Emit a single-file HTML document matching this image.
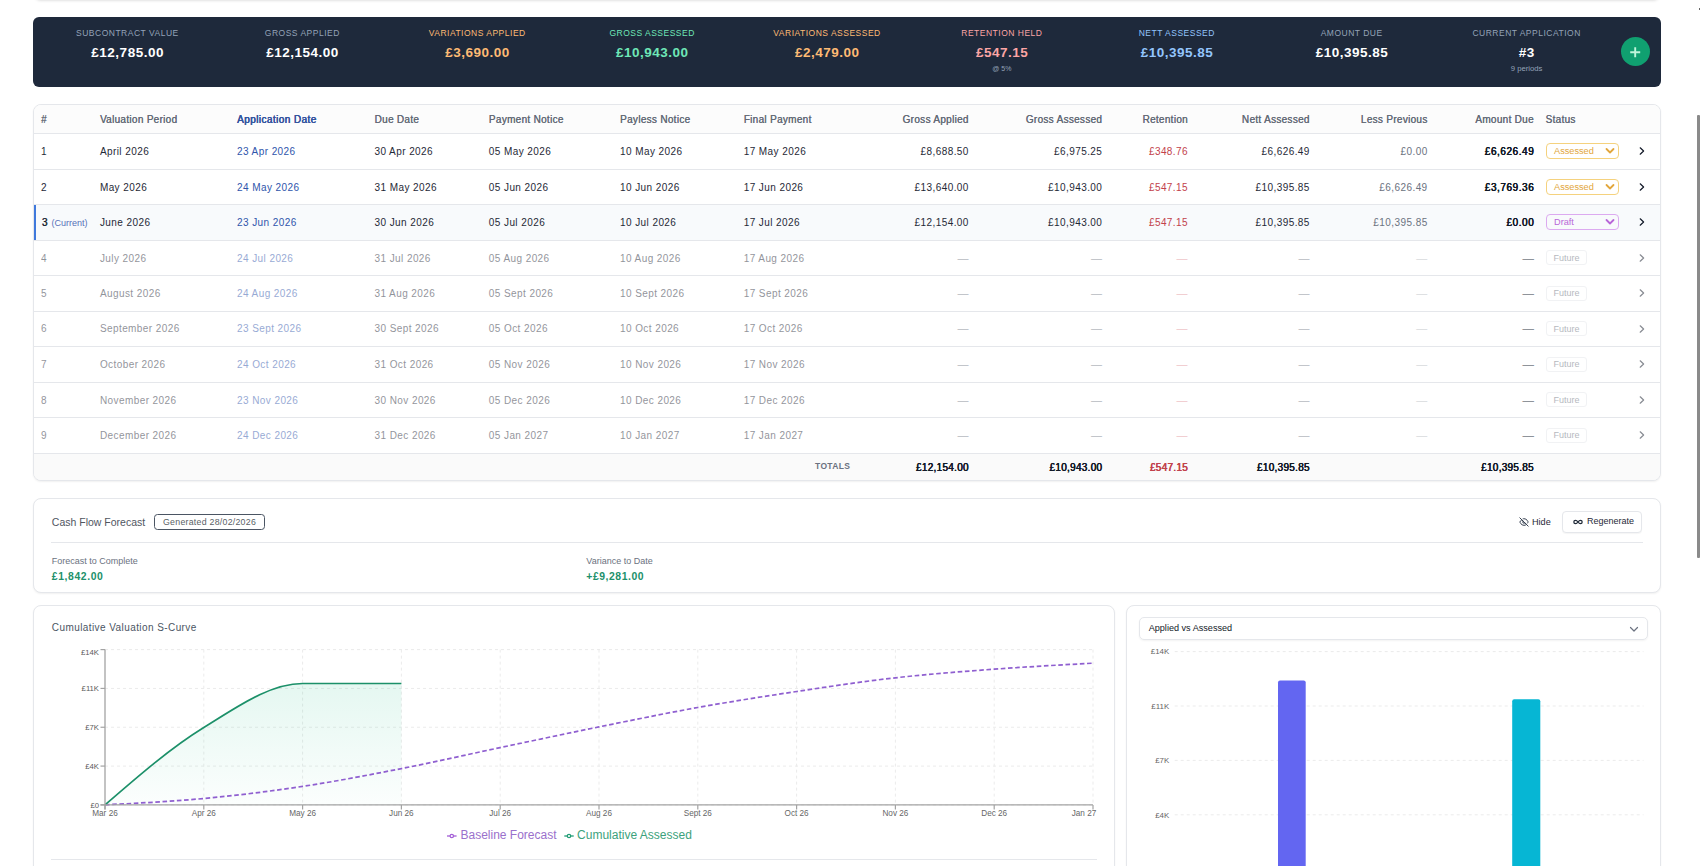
<!DOCTYPE html>
<html><head><meta charset="utf-8"><title>Valuations</title>
<style>
*{box-sizing:border-box;margin:0;padding:0}
html,body{width:1700px;height:866px;overflow:hidden;background:#fff;font-family:"Liberation Sans", sans-serif;color:#111827}
.a{position:absolute;white-space:nowrap}
.card{position:absolute;background:#fff;border:1px solid #e5e7eb;border-radius:8px;box-shadow:0 1px 2px rgba(0,0,0,.06)}
.kl{position:absolute;font-size:8.5px;letter-spacing:.5px;text-align:center;width:175px;line-height:10px;color:#94a3b8}
.kv{position:absolute;font-size:13.5px;letter-spacing:.5px;text-indent:.5px;font-weight:bold;text-align:center;width:175px;line-height:16px;color:#fff}
.ks{position:absolute;font-size:7px;text-align:center;width:175px;line-height:8px;color:#94a3b8}
.th{position:absolute;font-size:10px;letter-spacing:.3px;text-shadow:.25px 0 0;color:#646b77;line-height:12px;top:114.1px}
.td{position:absolute;font-size:10px;letter-spacing:.42px;line-height:13px;color:#1f2937}
.r{text-align:right}
.hl{position:absolute;left:34px;width:1626px;height:1px;background:#e5e7eb}
</style></head><body>

<div class="card" style="left:33px;top:-31px;width:1628px;height:32px;border-color:#ebebeb;box-shadow:0 1px 2px rgba(0,0,0,.05)"></div>
<div class="a" style="left:33px;top:17px;width:1628px;height:70px;background:#1e293b;border-radius:6px"></div>
<div class="kl" style="left:39.9px;top:28px;color:#94a3b8">SUBCONTRACT VALUE</div>
<div class="kv" style="left:39.9px;top:45.3px;color:#ffffff">£12,785.00</div>
<div class="kl" style="left:214.8px;top:28px;color:#94a3b8">GROSS APPLIED</div>
<div class="kv" style="left:214.8px;top:45.3px;color:#ffffff">£12,154.00</div>
<div class="kl" style="left:389.7px;top:28px;color:#fdba74">VARIATIONS APPLIED</div>
<div class="kv" style="left:389.7px;top:45.3px;color:#fdba74">£3,690.00</div>
<div class="kl" style="left:564.6px;top:28px;color:#6ee7b7">GROSS ASSESSED</div>
<div class="kv" style="left:564.6px;top:45.3px;color:#6ee7b7">£10,943.00</div>
<div class="kl" style="left:739.5px;top:28px;color:#fdba74">VARIATIONS ASSESSED</div>
<div class="kv" style="left:739.5px;top:45.3px;color:#fdba74">£2,479.00</div>
<div class="kl" style="left:914.4px;top:28px;color:#fca5a5">RETENTION HELD</div>
<div class="kv" style="left:914.4px;top:45.3px;color:#fca5a5">£547.15</div>
<div class="ks" style="left:914.4px;top:64.5px;font-size:7px">@ 5%</div>
<div class="kl" style="left:1089.3px;top:28px;color:#93c5fd">NETT ASSESSED</div>
<div class="kv" style="left:1089.3px;top:45.3px;color:#93c5fd">£10,395.85</div>
<div class="kl" style="left:1264.2px;top:28px;color:#94a3b8">AMOUNT DUE</div>
<div class="kv" style="left:1264.2px;top:45.3px;color:#ffffff">£10,395.85</div>
<div class="kl" style="left:1439.1px;top:28px;color:#94a3b8">CURRENT APPLICATION</div>
<div class="kv" style="left:1439.1px;top:45.3px;color:#ffffff">#3</div>
<div class="ks" style="left:1439.1px;top:64.5px;font-size:7.7px">9 periods</div>
<div class="a" style="left:1621px;top:37px;width:29px;height:29px;border-radius:50%;background:#10a070"></div>
<svg class="a" style="left:1621px;top:37px" width="29" height="29"><path d="M14.2 10.2v10M9.2 15.2h10" stroke="#bff5da" stroke-width="1.9" stroke-linecap="butt"/></svg>
<div class="card" style="left:33px;top:104px;width:1628px;height:377px;overflow:hidden">
</div>
<div class="a" style="left:34px;top:105px;width:1626px;height:28.3px;background:#fcfcfc;border-radius:7px 7px 0 0"></div>
<div class="hl" style="top:133px;background:#e5e7eb"></div>
<div class="hl" style="top:169.00px"></div>
<div class="hl" style="top:204.00px"></div>
<div class="hl" style="top:239.60px"></div>
<div class="hl" style="top:275.20px"></div>
<div class="hl" style="top:310.60px"></div>
<div class="hl" style="top:346.00px"></div>
<div class="hl" style="top:381.70px"></div>
<div class="hl" style="top:417.10px"></div>
<div class="hl" style="top:452.70px"></div>
<div class="a" style="left:34px;top:205.00px;width:1626px;height:34.60px;background:#f8fafc"></div>
<div class="a" style="left:34px;top:205.00px;width:2.4px;height:35.10px;background:#4079dc"></div>
<div class="a" style="left:34px;top:453.70px;width:1626px;height:26px;background:#fafafa;border-radius:0 0 7px 7px"></div>
<div class="th" style="left:41px">#</div>
<div class="th" style="left:99.9px">Valuation Period</div>
<div class="th" style="left:237px;color:#34549f;letter-spacing:.42px;text-shadow:.35px 0 0 #34549f,.15px 0 0 #34549f">Application Date</div>
<div class="th" style="left:374.5px">Due Date</div>
<div class="th" style="left:488.8px">Payment Notice</div>
<div class="th" style="left:620px">Payless Notice</div>
<div class="th" style="left:743.7px">Final Payment</div>
<div class="th" style="left:1545.5px">Status</div>
<div class="th r" style="left:768.6999999999999px;width:200px">Gross Applied</div>
<div class="th r" style="left:902.2px;width:200px">Gross Assessed</div>
<div class="th r" style="left:987.8999999999999px;width:200px">Retention</div>
<div class="th r" style="left:1109.7px;width:200px">Nett Assessed</div>
<div class="th r" style="left:1227.5px;width:200px">Less Previous</div>
<div class="th r" style="left:1333.8px;width:200px">Amount Due</div>
<div class="a" style="left:0;top:0">
<div class="td" style="left:41px;top:145.05px">1</div>
<div class="td" style="left:99.9px;top:145.05px">April 2026</div>
<div class="td" style="left:237px;top:145.05px;color:#2f55ab">23 Apr 2026</div>
<div class="td" style="left:374.5px;top:145.05px">30 Apr 2026</div>
<div class="td" style="left:488.8px;top:145.05px">05 May 2026</div>
<div class="td" style="left:620px;top:145.05px">10 May 2026</div>
<div class="td" style="left:743.7px;top:145.05px">17 May 2026</div>
<div class="td r" style="left:768.8199999999999px;width:200px;top:145.05px;color:#1f2937;letter-spacing:0.42px">£8,688.50</div>
<div class="td r" style="left:902.32px;width:200px;top:145.05px;color:#1f2937;letter-spacing:0.42px">£6,975.25</div>
<div class="td r" style="left:988.0199999999999px;width:200px;top:145.05px;color:#c2414b;letter-spacing:0.42px">£348.76</div>
<div class="td r" style="left:1109.8200000000002px;width:200px;top:145.05px;color:#1f2937;letter-spacing:0.42px">£6,626.49</div>
<div class="td r" style="left:1227.6200000000001px;width:200px;top:145.05px;color:#6b7280;letter-spacing:0.42px">£0.00</div>
<div class="td r" style="left:1334.05px;width:200px;top:145.05px;color:#111827;text-shadow:.45px 0 0,.2px 0 0;letter-spacing:0.55px">£6,626.49</div>
<div class="a" style="left:1545.5px;top:143.45px;width:73px;height:16px;border:1px solid #f5d27e;border-radius:4px"></div>
<div class="a" style="left:1554px;top:145.45px;font-size:9.2px;line-height:12px;color:#e2a63c">Assessed</div>
<svg class="a" style="left:1605px;top:146.45px" width="10" height="10"><path d="M1.5 3L5 6.5L8.5 3" fill="none" stroke="#e2a63c" stroke-width="1.8" stroke-linecap="round" stroke-linejoin="round"/></svg>
<svg class="a" style="left:1638px;top:146.45px" width="8" height="10"><path d="M2.2 1.8L5.6 5L2.2 8.2" fill="none" stroke="#111827" stroke-width="1.2" stroke-linecap="round" stroke-linejoin="round"/></svg>
</div>
<div class="a" style="left:0;top:0">
<div class="td" style="left:41px;top:180.60px">2</div>
<div class="td" style="left:99.9px;top:180.60px">May 2026</div>
<div class="td" style="left:237px;top:180.60px;color:#2f55ab">24 May 2026</div>
<div class="td" style="left:374.5px;top:180.60px">31 May 2026</div>
<div class="td" style="left:488.8px;top:180.60px">05 Jun 2026</div>
<div class="td" style="left:620px;top:180.60px">10 Jun 2026</div>
<div class="td" style="left:743.7px;top:180.60px">17 Jun 2026</div>
<div class="td r" style="left:768.8199999999999px;width:200px;top:180.60px;color:#1f2937;letter-spacing:0.42px">£13,640.00</div>
<div class="td r" style="left:902.32px;width:200px;top:180.60px;color:#1f2937;letter-spacing:0.42px">£10,943.00</div>
<div class="td r" style="left:988.0199999999999px;width:200px;top:180.60px;color:#c2414b;letter-spacing:0.42px">£547.15</div>
<div class="td r" style="left:1109.8200000000002px;width:200px;top:180.60px;color:#1f2937;letter-spacing:0.42px">£10,395.85</div>
<div class="td r" style="left:1227.6200000000001px;width:200px;top:180.60px;color:#6b7280;letter-spacing:0.42px">£6,626.49</div>
<div class="td r" style="left:1334.05px;width:200px;top:180.60px;color:#111827;text-shadow:.45px 0 0,.2px 0 0;letter-spacing:0.55px">£3,769.36</div>
<div class="a" style="left:1545.5px;top:179.00px;width:73px;height:16px;border:1px solid #f5d27e;border-radius:4px"></div>
<div class="a" style="left:1554px;top:181.00px;font-size:9.2px;line-height:12px;color:#e2a63c">Assessed</div>
<svg class="a" style="left:1605px;top:182.00px" width="10" height="10"><path d="M1.5 3L5 6.5L8.5 3" fill="none" stroke="#e2a63c" stroke-width="1.8" stroke-linecap="round" stroke-linejoin="round"/></svg>
<svg class="a" style="left:1638px;top:182.0px" width="8" height="10"><path d="M2.2 1.8L5.6 5L2.2 8.2" fill="none" stroke="#111827" stroke-width="1.2" stroke-linecap="round" stroke-linejoin="round"/></svg>
</div>
<div class="a" style="left:0;top:0">
<div class="td" style="left:41.8px;top:215.90px;text-shadow:.4px 0 0">3</div>
<div class="td" style="left:51.5px;top:216.90px;font-size:9px;letter-spacing:0;color:#5670b8">(Current)</div>
<div class="td" style="left:99.9px;top:215.90px">June 2026</div>
<div class="td" style="left:237px;top:215.90px;color:#2f55ab">23 Jun 2026</div>
<div class="td" style="left:374.5px;top:215.90px">30 Jun 2026</div>
<div class="td" style="left:488.8px;top:215.90px">05 Jul 2026</div>
<div class="td" style="left:620px;top:215.90px">10 Jul 2026</div>
<div class="td" style="left:743.7px;top:215.90px">17 Jul 2026</div>
<div class="td r" style="left:768.8199999999999px;width:200px;top:215.90px;color:#1f2937;letter-spacing:0.42px">£12,154.00</div>
<div class="td r" style="left:902.32px;width:200px;top:215.90px;color:#1f2937;letter-spacing:0.42px">£10,943.00</div>
<div class="td r" style="left:988.0199999999999px;width:200px;top:215.90px;color:#c2414b;letter-spacing:0.42px">£547.15</div>
<div class="td r" style="left:1109.8200000000002px;width:200px;top:215.90px;color:#1f2937;letter-spacing:0.42px">£10,395.85</div>
<div class="td r" style="left:1227.6200000000001px;width:200px;top:215.90px;color:#6b7280;letter-spacing:0.42px">£10,395.85</div>
<div class="td r" style="left:1334.05px;width:200px;top:215.90px;color:#111827;text-shadow:.45px 0 0,.2px 0 0;letter-spacing:0.55px">£0.00</div>
<div class="a" style="left:1545.5px;top:214.30px;width:73px;height:16px;border:1px solid #dcaaf0;border-radius:4px"></div>
<div class="a" style="left:1554px;top:216.30px;font-size:9.2px;line-height:12px;color:#b866d8">Draft</div>
<svg class="a" style="left:1605px;top:217.30px" width="10" height="10"><path d="M1.5 3L5 6.5L8.5 3" fill="none" stroke="#b866d8" stroke-width="1.8" stroke-linecap="round" stroke-linejoin="round"/></svg>
<svg class="a" style="left:1638px;top:217.3px" width="8" height="10"><path d="M2.2 1.8L5.6 5L2.2 8.2" fill="none" stroke="#111827" stroke-width="1.2" stroke-linecap="round" stroke-linejoin="round"/></svg>
</div>
<div class="a" style="left:0;top:0;opacity:.5">
<div class="td" style="left:41px;top:251.50px">4</div>
<div class="td" style="left:99.9px;top:251.50px">July 2026</div>
<div class="td" style="left:237px;top:251.50px;color:#2f55ab">24 Jul 2026</div>
<div class="td" style="left:374.5px;top:251.50px">31 Jul 2026</div>
<div class="td" style="left:488.8px;top:251.50px">05 Aug 2026</div>
<div class="td" style="left:620px;top:251.50px">10 Aug 2026</div>
<div class="td" style="left:743.7px;top:251.50px">17 Aug 2026</div>
<div class="td r" style="left:768.8199999999999px;width:200px;top:251.50px;color:#6b7280;letter-spacing:.42px;font-size:11px">—</div>
<div class="td r" style="left:902.32px;width:200px;top:251.50px;color:#6b7280;letter-spacing:.42px;font-size:11px">—</div>
<div class="td r" style="left:988.0199999999999px;width:200px;top:251.50px;color:#e08a90;letter-spacing:.42px;font-size:11px">—</div>
<div class="td r" style="left:1109.8200000000002px;width:200px;top:251.50px;color:#6b7280;letter-spacing:.42px;font-size:11px">—</div>
<div class="td r" style="left:1227.6200000000001px;width:200px;top:251.50px;color:#b0b4ba;letter-spacing:.42px;font-size:11px">—</div>
<div class="td r" style="left:1333.92px;width:200px;top:251.50px;color:#1f2937;text-shadow:.45px 0 0,.2px 0 0;letter-spacing:.42px;font-size:11px">—</div>
<div class="a" style="left:1545.5px;top:250.40px;width:41.5px;height:15px;border:1px solid #e5e7eb;border-radius:3px"></div>
<div class="a" style="left:1553.5px;top:251.90px;font-size:9px;line-height:12px;color:#6b7280">Future</div>
<svg class="a" style="left:1638px;top:252.89999999999998px" width="8" height="10"><path d="M2.2 1.8L5.6 5L2.2 8.2" fill="none" stroke="#111827" stroke-width="1.2" stroke-linecap="round" stroke-linejoin="round"/></svg>
</div>
<div class="a" style="left:0;top:0;opacity:.5">
<div class="td" style="left:41px;top:287.00px">5</div>
<div class="td" style="left:99.9px;top:287.00px">August 2026</div>
<div class="td" style="left:237px;top:287.00px;color:#2f55ab">24 Aug 2026</div>
<div class="td" style="left:374.5px;top:287.00px">31 Aug 2026</div>
<div class="td" style="left:488.8px;top:287.00px">05 Sept 2026</div>
<div class="td" style="left:620px;top:287.00px">10 Sept 2026</div>
<div class="td" style="left:743.7px;top:287.00px">17 Sept 2026</div>
<div class="td r" style="left:768.8199999999999px;width:200px;top:287.00px;color:#6b7280;letter-spacing:.42px;font-size:11px">—</div>
<div class="td r" style="left:902.32px;width:200px;top:287.00px;color:#6b7280;letter-spacing:.42px;font-size:11px">—</div>
<div class="td r" style="left:988.0199999999999px;width:200px;top:287.00px;color:#e08a90;letter-spacing:.42px;font-size:11px">—</div>
<div class="td r" style="left:1109.8200000000002px;width:200px;top:287.00px;color:#6b7280;letter-spacing:.42px;font-size:11px">—</div>
<div class="td r" style="left:1227.6200000000001px;width:200px;top:287.00px;color:#b0b4ba;letter-spacing:.42px;font-size:11px">—</div>
<div class="td r" style="left:1333.92px;width:200px;top:287.00px;color:#1f2937;text-shadow:.45px 0 0,.2px 0 0;letter-spacing:.42px;font-size:11px">—</div>
<div class="a" style="left:1545.5px;top:285.90px;width:41.5px;height:15px;border:1px solid #e5e7eb;border-radius:3px"></div>
<div class="a" style="left:1553.5px;top:287.40px;font-size:9px;line-height:12px;color:#6b7280">Future</div>
<svg class="a" style="left:1638px;top:288.4px" width="8" height="10"><path d="M2.2 1.8L5.6 5L2.2 8.2" fill="none" stroke="#111827" stroke-width="1.2" stroke-linecap="round" stroke-linejoin="round"/></svg>
</div>
<div class="a" style="left:0;top:0;opacity:.5">
<div class="td" style="left:41px;top:322.40px">6</div>
<div class="td" style="left:99.9px;top:322.40px">September 2026</div>
<div class="td" style="left:237px;top:322.40px;color:#2f55ab">23 Sept 2026</div>
<div class="td" style="left:374.5px;top:322.40px">30 Sept 2026</div>
<div class="td" style="left:488.8px;top:322.40px">05 Oct 2026</div>
<div class="td" style="left:620px;top:322.40px">10 Oct 2026</div>
<div class="td" style="left:743.7px;top:322.40px">17 Oct 2026</div>
<div class="td r" style="left:768.8199999999999px;width:200px;top:322.40px;color:#6b7280;letter-spacing:.42px;font-size:11px">—</div>
<div class="td r" style="left:902.32px;width:200px;top:322.40px;color:#6b7280;letter-spacing:.42px;font-size:11px">—</div>
<div class="td r" style="left:988.0199999999999px;width:200px;top:322.40px;color:#e08a90;letter-spacing:.42px;font-size:11px">—</div>
<div class="td r" style="left:1109.8200000000002px;width:200px;top:322.40px;color:#6b7280;letter-spacing:.42px;font-size:11px">—</div>
<div class="td r" style="left:1227.6200000000001px;width:200px;top:322.40px;color:#b0b4ba;letter-spacing:.42px;font-size:11px">—</div>
<div class="td r" style="left:1333.92px;width:200px;top:322.40px;color:#1f2937;text-shadow:.45px 0 0,.2px 0 0;letter-spacing:.42px;font-size:11px">—</div>
<div class="a" style="left:1545.5px;top:321.30px;width:41.5px;height:15px;border:1px solid #e5e7eb;border-radius:3px"></div>
<div class="a" style="left:1553.5px;top:322.80px;font-size:9px;line-height:12px;color:#6b7280">Future</div>
<svg class="a" style="left:1638px;top:323.8px" width="8" height="10"><path d="M2.2 1.8L5.6 5L2.2 8.2" fill="none" stroke="#111827" stroke-width="1.2" stroke-linecap="round" stroke-linejoin="round"/></svg>
</div>
<div class="a" style="left:0;top:0;opacity:.5">
<div class="td" style="left:41px;top:357.95px">7</div>
<div class="td" style="left:99.9px;top:357.95px">October 2026</div>
<div class="td" style="left:237px;top:357.95px;color:#2f55ab">24 Oct 2026</div>
<div class="td" style="left:374.5px;top:357.95px">31 Oct 2026</div>
<div class="td" style="left:488.8px;top:357.95px">05 Nov 2026</div>
<div class="td" style="left:620px;top:357.95px">10 Nov 2026</div>
<div class="td" style="left:743.7px;top:357.95px">17 Nov 2026</div>
<div class="td r" style="left:768.8199999999999px;width:200px;top:357.95px;color:#6b7280;letter-spacing:.42px;font-size:11px">—</div>
<div class="td r" style="left:902.32px;width:200px;top:357.95px;color:#6b7280;letter-spacing:.42px;font-size:11px">—</div>
<div class="td r" style="left:988.0199999999999px;width:200px;top:357.95px;color:#e08a90;letter-spacing:.42px;font-size:11px">—</div>
<div class="td r" style="left:1109.8200000000002px;width:200px;top:357.95px;color:#6b7280;letter-spacing:.42px;font-size:11px">—</div>
<div class="td r" style="left:1227.6200000000001px;width:200px;top:357.95px;color:#b0b4ba;letter-spacing:.42px;font-size:11px">—</div>
<div class="td r" style="left:1333.92px;width:200px;top:357.95px;color:#1f2937;text-shadow:.45px 0 0,.2px 0 0;letter-spacing:.42px;font-size:11px">—</div>
<div class="a" style="left:1545.5px;top:356.85px;width:41.5px;height:15px;border:1px solid #e5e7eb;border-radius:3px"></div>
<div class="a" style="left:1553.5px;top:358.35px;font-size:9px;line-height:12px;color:#6b7280">Future</div>
<svg class="a" style="left:1638px;top:359.35px" width="8" height="10"><path d="M2.2 1.8L5.6 5L2.2 8.2" fill="none" stroke="#111827" stroke-width="1.2" stroke-linecap="round" stroke-linejoin="round"/></svg>
</div>
<div class="a" style="left:0;top:0;opacity:.5">
<div class="td" style="left:41px;top:393.50px">8</div>
<div class="td" style="left:99.9px;top:393.50px">November 2026</div>
<div class="td" style="left:237px;top:393.50px;color:#2f55ab">23 Nov 2026</div>
<div class="td" style="left:374.5px;top:393.50px">30 Nov 2026</div>
<div class="td" style="left:488.8px;top:393.50px">05 Dec 2026</div>
<div class="td" style="left:620px;top:393.50px">10 Dec 2026</div>
<div class="td" style="left:743.7px;top:393.50px">17 Dec 2026</div>
<div class="td r" style="left:768.8199999999999px;width:200px;top:393.50px;color:#6b7280;letter-spacing:.42px;font-size:11px">—</div>
<div class="td r" style="left:902.32px;width:200px;top:393.50px;color:#6b7280;letter-spacing:.42px;font-size:11px">—</div>
<div class="td r" style="left:988.0199999999999px;width:200px;top:393.50px;color:#e08a90;letter-spacing:.42px;font-size:11px">—</div>
<div class="td r" style="left:1109.8200000000002px;width:200px;top:393.50px;color:#6b7280;letter-spacing:.42px;font-size:11px">—</div>
<div class="td r" style="left:1227.6200000000001px;width:200px;top:393.50px;color:#b0b4ba;letter-spacing:.42px;font-size:11px">—</div>
<div class="td r" style="left:1333.92px;width:200px;top:393.50px;color:#1f2937;text-shadow:.45px 0 0,.2px 0 0;letter-spacing:.42px;font-size:11px">—</div>
<div class="a" style="left:1545.5px;top:392.40px;width:41.5px;height:15px;border:1px solid #e5e7eb;border-radius:3px"></div>
<div class="a" style="left:1553.5px;top:393.90px;font-size:9px;line-height:12px;color:#6b7280">Future</div>
<svg class="a" style="left:1638px;top:394.9px" width="8" height="10"><path d="M2.2 1.8L5.6 5L2.2 8.2" fill="none" stroke="#111827" stroke-width="1.2" stroke-linecap="round" stroke-linejoin="round"/></svg>
</div>
<div class="a" style="left:0;top:0;opacity:.5">
<div class="td" style="left:41px;top:429.00px">9</div>
<div class="td" style="left:99.9px;top:429.00px">December 2026</div>
<div class="td" style="left:237px;top:429.00px;color:#2f55ab">24 Dec 2026</div>
<div class="td" style="left:374.5px;top:429.00px">31 Dec 2026</div>
<div class="td" style="left:488.8px;top:429.00px">05 Jan 2027</div>
<div class="td" style="left:620px;top:429.00px">10 Jan 2027</div>
<div class="td" style="left:743.7px;top:429.00px">17 Jan 2027</div>
<div class="td r" style="left:768.8199999999999px;width:200px;top:429.00px;color:#6b7280;letter-spacing:.42px;font-size:11px">—</div>
<div class="td r" style="left:902.32px;width:200px;top:429.00px;color:#6b7280;letter-spacing:.42px;font-size:11px">—</div>
<div class="td r" style="left:988.0199999999999px;width:200px;top:429.00px;color:#e08a90;letter-spacing:.42px;font-size:11px">—</div>
<div class="td r" style="left:1109.8200000000002px;width:200px;top:429.00px;color:#6b7280;letter-spacing:.42px;font-size:11px">—</div>
<div class="td r" style="left:1227.6200000000001px;width:200px;top:429.00px;color:#b0b4ba;letter-spacing:.42px;font-size:11px">—</div>
<div class="td r" style="left:1333.92px;width:200px;top:429.00px;color:#1f2937;text-shadow:.45px 0 0,.2px 0 0;letter-spacing:.42px;font-size:11px">—</div>
<div class="a" style="left:1545.5px;top:427.90px;width:41.5px;height:15px;border:1px solid #e5e7eb;border-radius:3px"></div>
<div class="a" style="left:1553.5px;top:429.40px;font-size:9px;line-height:12px;color:#6b7280">Future</div>
<svg class="a" style="left:1638px;top:430.4px" width="8" height="10"><path d="M2.2 1.8L5.6 5L2.2 8.2" fill="none" stroke="#111827" stroke-width="1.2" stroke-linecap="round" stroke-linejoin="round"/></svg>
</div>
<div class="a" style="left:815px;top:460.70px;font-size:8.5px;font-weight:bold;letter-spacing:.35px;color:#6b7280;line-height:10px">TOTALS</div>
<div class="td r" style="left:768.68px;width:200px;top:461.20px;font-size:10px;letter-spacing:.28px;text-shadow:.45px 0 0,.2px 0 0;color:#111827">£12,154.00</div>
<div class="td r" style="left:902.1800000000001px;width:200px;top:461.20px;font-size:10px;letter-spacing:.28px;text-shadow:.45px 0 0,.2px 0 0;color:#111827">£10,943.00</div>
<div class="td r" style="left:987.8799999999999px;width:200px;top:461.20px;font-size:10px;letter-spacing:.28px;text-shadow:.45px 0 0,.2px 0 0;color:#c2414b">£547.15</div>
<div class="td r" style="left:1109.68px;width:200px;top:461.20px;font-size:10px;letter-spacing:.28px;text-shadow:.45px 0 0,.2px 0 0;color:#111827">£10,395.85</div>
<div class="td r" style="left:1333.78px;width:200px;top:461.20px;font-size:10px;letter-spacing:.28px;text-shadow:.45px 0 0,.2px 0 0;color:#111827">£10,395.85</div>
<div class="card" style="left:33px;top:498.2px;width:1628px;height:94.5px"></div>
<div class="a" style="left:51.8px;top:516.2px;font-size:10.5px;line-height:12px;color:#50565f">Cash Flow Forecast</div>
<div class="a" style="left:154.3px;top:514.4px;width:110.3px;height:15.2px;border:1px solid #4b5563;border-radius:3.5px"></div>
<div class="a" style="left:163px;top:516.8px;font-size:8.8px;letter-spacing:.25px;line-height:11px;color:#5a5f66">Generated 28/02/2026</div>
<div class="a" style="left:50.6px;top:542px;width:1592.4px;height:1px;background:#e5e7eb"></div>
<div class="a" style="left:51.8px;top:556px;font-size:9px;line-height:11px;color:#6b7280">Forecast to Complete</div>
<div class="a" style="left:51.8px;top:570.4px;font-size:10.4px;letter-spacing:.6px;line-height:13px;font-weight:bold;color:#21906a">£1,842.00</div>
<div class="a" style="left:586.3px;top:556px;font-size:9px;line-height:11px;color:#6b7280">Variance to Date</div>
<div class="a" style="left:586.3px;top:570.4px;font-size:10.4px;letter-spacing:.55px;line-height:13px;font-weight:bold;color:#21906a">+£9,281.00</div>
<svg class="a" style="left:1518.5px;top:517px" width="10" height="10" viewBox="0 0 24 24" fill="none" stroke="#374151" stroke-width="2.4" stroke-linecap="round" stroke-linejoin="round"><path d="M9.9 4.24A9.12 9.12 0 0 1 12 4c7 0 10 8 10 8a13.16 13.16 0 0 1-1.67 2.68"/><path d="M6.61 6.61A13.526 13.526 0 0 0 2 12s3 8 10 8a9.74 9.74 0 0 0 5.39-1.61"/><path d="M14.12 14.12a3 3 0 1 1-4.24-4.24"/><line x1="2" y1="2" x2="22" y2="22"/></svg>
<div class="a" style="left:1532px;top:517px;font-size:9.1px;line-height:11px;color:#1f2937">Hide</div>
<div class="a" style="left:1562px;top:511px;width:80px;height:22px;border:1px solid #e5e7eb;border-radius:4px;background:#fff;box-shadow:0 1px 1px rgba(0,0,0,.04)"></div>
<svg class="a" style="left:1572.5px;top:517px" width="10" height="10" viewBox="0 0 24 24" fill="none" stroke="#1f2937" stroke-width="3" stroke-linecap="round"><path d="M12 12c-2-2.67-4-4-6-4a4 4 0 1 0 0 8c2 0 4-1.33 6-4Zm0 0c2 2.67 4 4 6 4a4 4 0 0 0 0-8c-2 0-4 1.33-6 4Z"/></svg>
<div class="a" style="left:1587px;top:515.5px;font-size:9px;line-height:11px;color:#1f2937">Regenerate</div>
<div class="card" style="left:33px;top:605px;width:1081.5px;height:320px"></div>
<div class="card" style="left:1126px;top:605px;width:535px;height:320px"></div>
<div class="a" style="left:1139.4px;top:617.3px;width:509px;height:22.8px;border:1px solid #e5e7eb;border-radius:5px;box-shadow:0 1px 2px rgba(0,0,0,.05)"></div>
<div class="a" style="left:1148.7px;top:623px;font-size:9.1px;line-height:11px;color:#111827">Applied vs Assessed</div>
<svg class="a" style="left:1629px;top:625.5px" width="10" height="7"><path d="M1.5 1.5L5 5L8.5 1.5" fill="none" stroke="#6b7280" stroke-width="1.2" stroke-linecap="round" stroke-linejoin="round"/></svg>
<div class="a" style="left:51.8px;top:622px;font-size:10px;letter-spacing:.42px;line-height:12px;color:#4b5563">Cumulative Valuation S-Curve</div>
<svg class="a" style="left:0;top:0" width="1700" height="866">
<defs><linearGradient id="gf" x1="0" y1="0" x2="0" y2="1"><stop offset="0" stop-color="#10b981" stop-opacity=".11"/><stop offset="1" stop-color="#10b981" stop-opacity=".015"/></linearGradient></defs>
<line x1="105.0" y1="804.90" x2="1093.0" y2="804.90" stroke="#ebebeb" stroke-dasharray="3 3"/>
<line x1="105.0" y1="766.08" x2="1093.0" y2="766.08" stroke="#ebebeb" stroke-dasharray="3 3"/>
<line x1="105.0" y1="727.25" x2="1093.0" y2="727.25" stroke="#ebebeb" stroke-dasharray="3 3"/>
<line x1="105.0" y1="688.42" x2="1093.0" y2="688.42" stroke="#ebebeb" stroke-dasharray="3 3"/>
<line x1="105.0" y1="649.60" x2="1093.0" y2="649.60" stroke="#ebebeb" stroke-dasharray="3 3"/>
<line x1="203.80" y1="649.6" x2="203.80" y2="804.9" stroke="#ebebeb" stroke-dasharray="3 3"/>
<line x1="302.60" y1="649.6" x2="302.60" y2="804.9" stroke="#ebebeb" stroke-dasharray="3 3"/>
<line x1="401.40" y1="649.6" x2="401.40" y2="804.9" stroke="#ebebeb" stroke-dasharray="3 3"/>
<line x1="500.20" y1="649.6" x2="500.20" y2="804.9" stroke="#ebebeb" stroke-dasharray="3 3"/>
<line x1="599.00" y1="649.6" x2="599.00" y2="804.9" stroke="#ebebeb" stroke-dasharray="3 3"/>
<line x1="697.80" y1="649.6" x2="697.80" y2="804.9" stroke="#ebebeb" stroke-dasharray="3 3"/>
<line x1="796.60" y1="649.6" x2="796.60" y2="804.9" stroke="#ebebeb" stroke-dasharray="3 3"/>
<line x1="895.40" y1="649.6" x2="895.40" y2="804.9" stroke="#ebebeb" stroke-dasharray="3 3"/>
<line x1="994.20" y1="649.6" x2="994.20" y2="804.9" stroke="#ebebeb" stroke-dasharray="3 3"/>
<line x1="1093.00" y1="649.6" x2="1093.00" y2="804.9" stroke="#ebebeb" stroke-dasharray="3 3"/>
<path d="M105.00,804.90C137.93,776.33,170.87,747.76,203.80,727.52C236.73,707.29,269.67,683.51,302.60,683.51C335.53,683.51,368.47,683.51,401.40,683.51L401.40,804.9L105.00,804.9Z" fill="url(#gf)"/>
<path d="M105.00,804.80C137.93,803.18,170.87,801.57,203.80,798.50C236.73,795.43,269.67,791.38,302.60,786.40C335.53,781.42,368.47,775.07,401.40,768.60C434.33,762.13,467.27,754.55,500.20,747.60C533.13,740.65,566.07,733.58,599.00,726.90C631.93,720.22,664.87,713.40,697.80,707.50C730.73,701.60,763.67,696.45,796.60,691.50C829.53,686.55,862.47,681.52,895.40,677.80C928.33,674.08,961.27,671.63,994.20,669.20C1027.13,666.77,1060.07,664.98,1093.00,663.20" fill="none" stroke="#8f5fd0" stroke-width="1.7" stroke-dasharray="4.6 2.6"/>
<path d="M105.00,804.90C137.93,776.33,170.87,747.76,203.80,727.52C236.73,707.29,269.67,683.51,302.60,683.51C335.53,683.51,368.47,683.51,401.40,683.51" fill="none" stroke="#1c9069" stroke-width="1.7"/>
<line x1="105.0" y1="649.6" x2="105.0" y2="809.4" stroke="#a3a3a3" stroke-width="1.3"/>
<line x1="100.5" y1="804.9" x2="1093.0" y2="804.9" stroke="#a3a3a3" stroke-width="1.3"/>
<line x1="100.5" y1="804.90" x2="105.0" y2="804.90" stroke="#a3a3a3" stroke-width="1.2"/>
<line x1="100.5" y1="766.08" x2="105.0" y2="766.08" stroke="#a3a3a3" stroke-width="1.2"/>
<line x1="100.5" y1="727.25" x2="105.0" y2="727.25" stroke="#a3a3a3" stroke-width="1.2"/>
<line x1="100.5" y1="688.42" x2="105.0" y2="688.42" stroke="#a3a3a3" stroke-width="1.2"/>
<line x1="100.5" y1="649.60" x2="105.0" y2="649.60" stroke="#a3a3a3" stroke-width="1.2"/>
<line x1="105.00" y1="804.9" x2="105.00" y2="809.4" stroke="#a3a3a3" stroke-width="1.2"/>
<line x1="203.80" y1="804.9" x2="203.80" y2="809.4" stroke="#a3a3a3" stroke-width="1.2"/>
<line x1="302.60" y1="804.9" x2="302.60" y2="809.4" stroke="#a3a3a3" stroke-width="1.2"/>
<line x1="401.40" y1="804.9" x2="401.40" y2="809.4" stroke="#a3a3a3" stroke-width="1.2"/>
<line x1="500.20" y1="804.9" x2="500.20" y2="809.4" stroke="#a3a3a3" stroke-width="1.2"/>
<line x1="599.00" y1="804.9" x2="599.00" y2="809.4" stroke="#a3a3a3" stroke-width="1.2"/>
<line x1="697.80" y1="804.9" x2="697.80" y2="809.4" stroke="#a3a3a3" stroke-width="1.2"/>
<line x1="796.60" y1="804.9" x2="796.60" y2="809.4" stroke="#a3a3a3" stroke-width="1.2"/>
<line x1="895.40" y1="804.9" x2="895.40" y2="809.4" stroke="#a3a3a3" stroke-width="1.2"/>
<line x1="994.20" y1="804.9" x2="994.20" y2="809.4" stroke="#a3a3a3" stroke-width="1.2"/>
<line x1="1093.00" y1="804.9" x2="1093.00" y2="809.4" stroke="#a3a3a3" stroke-width="1.2"/>
<text x="99" y="807.60" text-anchor="end" font-size="7.7" fill="#5a5a5a" font-family="Liberation Sans">£0</text>
<text x="99" y="768.78" text-anchor="end" font-size="7.7" fill="#5a5a5a" font-family="Liberation Sans">£4K</text>
<text x="99" y="729.95" text-anchor="end" font-size="7.7" fill="#5a5a5a" font-family="Liberation Sans">£7K</text>
<text x="99" y="691.12" text-anchor="end" font-size="7.7" fill="#5a5a5a" font-family="Liberation Sans">£11K</text>
<text x="99" y="655.00" text-anchor="end" font-size="7.7" fill="#5a5a5a" font-family="Liberation Sans">£14K</text>
<text x="105.00" y="815.7" text-anchor="middle" font-size="8.2" fill="#666" font-family="Liberation Sans">Mar 26</text>
<text x="203.80" y="815.7" text-anchor="middle" font-size="8.2" fill="#666" font-family="Liberation Sans">Apr 26</text>
<text x="302.60" y="815.7" text-anchor="middle" font-size="8.2" fill="#666" font-family="Liberation Sans">May 26</text>
<text x="401.40" y="815.7" text-anchor="middle" font-size="8.2" fill="#666" font-family="Liberation Sans">Jun 26</text>
<text x="500.20" y="815.7" text-anchor="middle" font-size="8.2" fill="#666" font-family="Liberation Sans">Jul 26</text>
<text x="599.00" y="815.7" text-anchor="middle" font-size="8.2" fill="#666" font-family="Liberation Sans">Aug 26</text>
<text x="697.80" y="815.7" text-anchor="middle" font-size="8.2" fill="#666" font-family="Liberation Sans">Sept 26</text>
<text x="796.60" y="815.7" text-anchor="middle" font-size="8.2" fill="#666" font-family="Liberation Sans">Oct 26</text>
<text x="895.40" y="815.7" text-anchor="middle" font-size="8.2" fill="#666" font-family="Liberation Sans">Nov 26</text>
<text x="994.20" y="815.7" text-anchor="middle" font-size="8.2" fill="#666" font-family="Liberation Sans">Dec 26</text>
<text x="1096.3" y="815.7" text-anchor="end" font-size="8.2" fill="#666" font-family="Liberation Sans">Jan 27</text>
<line x1="447" y1="836" x2="456.6" y2="836" stroke="#a35fd6" stroke-width="1.3"/><circle cx="451.8" cy="836" r="1.7" fill="#fff" stroke="#a35fd6" stroke-width="1.2"/>
<text x="460.5" y="839.2" font-size="12" fill="#9a70cc" font-family="Liberation Sans">Baseline Forecast</text>
<line x1="564.3" y1="836" x2="573.7" y2="836" stroke="#1f9c74" stroke-width="1.3"/><circle cx="569" cy="836" r="1.7" fill="#fff" stroke="#1f9c74" stroke-width="1.2"/>
<text x="577.1" y="839.2" font-size="12" fill="#3ca27c" font-family="Liberation Sans">Cumulative Assessed</text>
<line x1="51" y1="859.5" x2="1097" y2="859.5" stroke="#e5e7eb" stroke-width="1"/>
<line x1="1174.7" y1="814.80" x2="1643.5" y2="814.80" stroke="#ebebeb" stroke-dasharray="3 3"/>
<line x1="1174.7" y1="760.40" x2="1643.5" y2="760.40" stroke="#ebebeb" stroke-dasharray="3 3"/>
<line x1="1174.7" y1="706.00" x2="1643.5" y2="706.00" stroke="#ebebeb" stroke-dasharray="3 3"/>
<line x1="1174.7" y1="651.60" x2="1643.5" y2="651.60" stroke="#ebebeb" stroke-dasharray="3 3"/>
<text x="1169.2" y="817.60" text-anchor="end" font-size="7.9" fill="#666" font-family="Liberation Sans">£4K</text>
<text x="1169.2" y="763.20" text-anchor="end" font-size="7.9" fill="#666" font-family="Liberation Sans">£7K</text>
<text x="1169.2" y="708.80" text-anchor="end" font-size="7.9" fill="#666" font-family="Liberation Sans">£11K</text>
<text x="1169.2" y="654.40" text-anchor="end" font-size="7.9" fill="#666" font-family="Liberation Sans">£14K</text>
<path d="M1278,900V682.5Q1278,680.5 1280,680.5H1303.7Q1305.7,680.5 1305.7,682.5V900Z" fill="#6366f1"/>
<path d="M1512.2,900V701.2Q1512.2,699.2 1514.2,699.2H1538.3Q1540.3,699.2 1540.3,701.2V900Z" fill="#06b6d4"/>
</svg>
<div class="a" style="left:1697px;top:115px;width:2.5px;height:443px;background:#8a8a8a;border-radius:1px"></div>
<div class="a" style="left:1699px;top:7.5px;width:1px;height:2px;background:#666"></div>
</body></html>
